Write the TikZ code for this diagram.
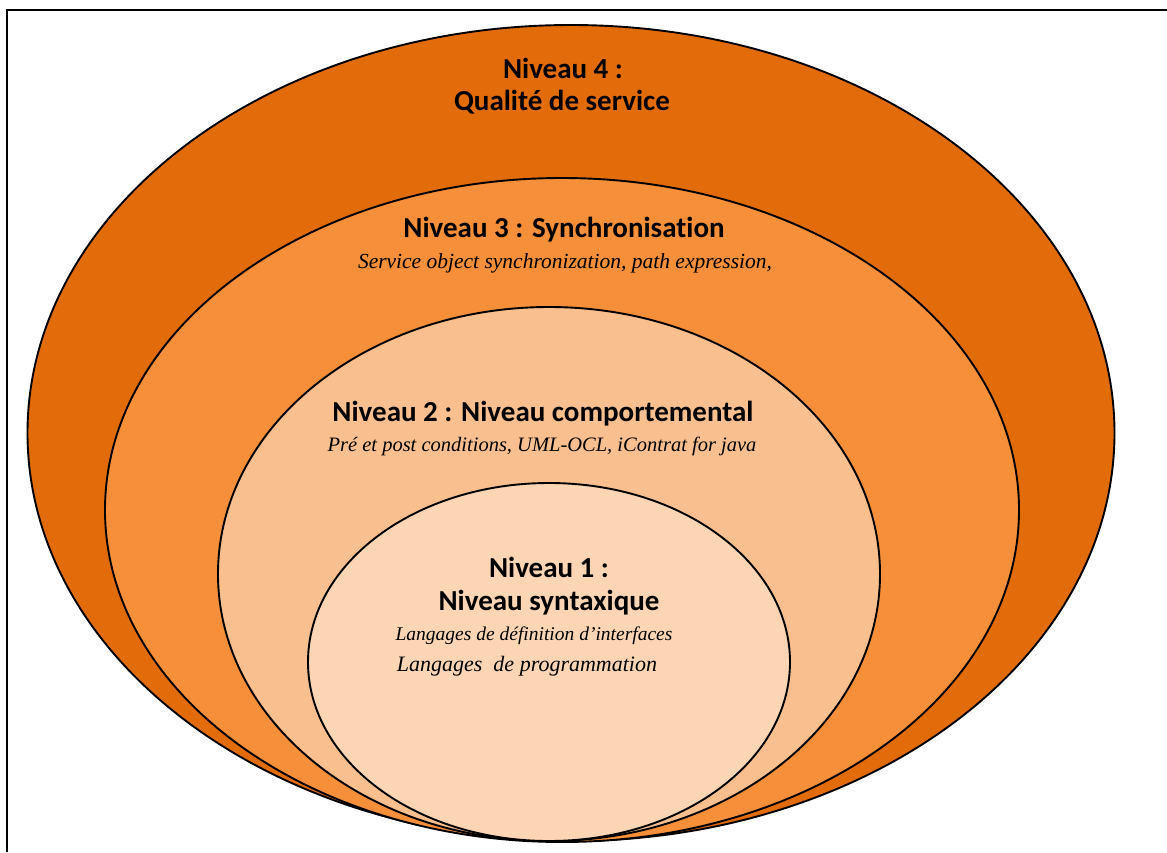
\documentclass[tikz,border=0pt]{standalone}
\usepackage{fontspec}
\setmainfont{Liberation Serif}
\newfontfamily\headfont[Ligatures=NoCommon]{Carlito}
\usetikzlibrary{shapes.geometric}
\definecolor{lvlfour}{HTML}{E36C0A}
\definecolor{lvlthree}{HTML}{F68F3A}
\definecolor{lvltwo}{HTML}{F9BF8F}
\definecolor{lvlone}{HTML}{FBD5B4}
\begin{document}
\begin{tikzpicture}[x=1pt,y=-1pt,
  ring/.style={ellipse, draw=black, line width=1.9pt, inner sep=0pt},
  head/.style={font=\headfont\bfseries\fontsize{29}{34}\selectfont, align=center, inner sep=0pt},
  note/.style={font=\itshape\fontsize{20.5}{24}\selectfont, inner sep=0pt}]
  \useasboundingbox (0,0) rectangle (1167,852);
  % partial frame
  \draw[line width=1.8pt] (7,852) -- (7,10) -- (1167,10);
  % nested levels
  \node[ring, fill=lvlfour,  minimum width=1087pt, minimum height=816pt] (n4) at (571,433) {};
  \node[ring, fill=lvlthree, minimum width=914pt,  minimum height=664pt] (n3) at (562,510) {};
  \node[ring, fill=lvltwo,   minimum width=662pt,  minimum height=534pt] (n2) at (549,574) {};
  \node[ring, fill=lvlone,   minimum width=482pt,  minimum height=358pt] (n1) at (549,662) {};
  % labels
  \node[head] (t4a) at (563,68) {Niveau 4 :};
  \node[head] (t4b) at (562,102) {Qualité de service};
  \node[head] (t3) at (564,230) {Niveau 3 : Synchronisation};
  \node[note, font=\itshape\fontsize{21.5}{24}\selectfont] (d3) at (565,263) {Service object synchronization, path expression,};
  \node[head] (t2) at (543,414) {Niveau 2 : Niveau comportemental};
  \node[note] (d2) at (542,446) {Pré et post conditions, UML-OCL, iContrat for java};
  \node[head] (t1a) at (549,567) {Niveau 1 :};
  \node[head] (t1b) at (549,603) {Niveau syntaxique};
  \node[note, font=\itshape\fontsize{19.5}{24}\selectfont] (d1a) at (534,636) {Langages de définition d’interfaces};
  \node[note, font=\itshape\fontsize{22}{26}\selectfont] (d1b) at (527,666) {Langages\ \ de programmation};
\end{tikzpicture}
\end{document}
